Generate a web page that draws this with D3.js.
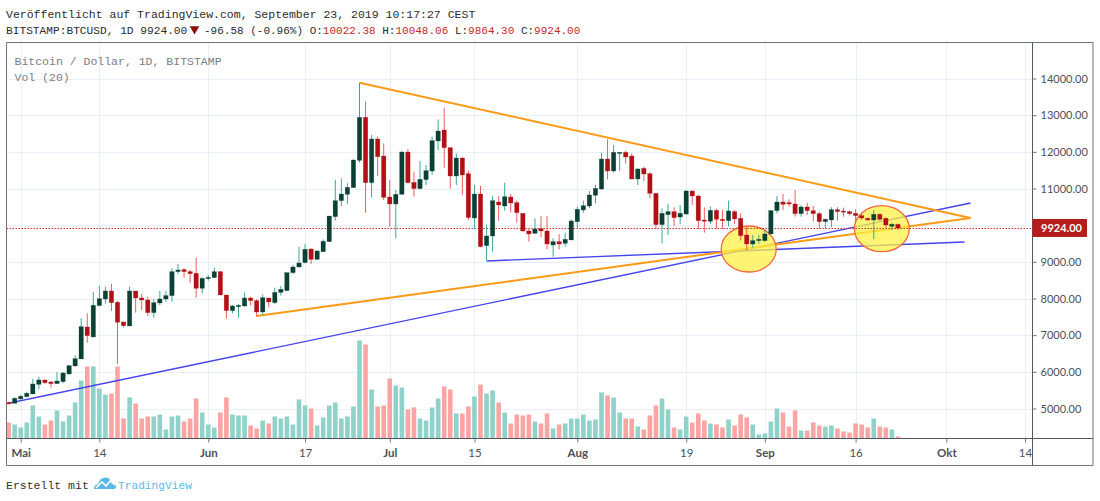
<!DOCTYPE html>
<html>
<head>
<meta charset="utf-8">
<script src="https://cdnjs.cloudflare.com/ajax/libs/d3/7.8.5/d3.min.js"></script>
<style>
  html, body { margin: 0; padding: 0; background: #fff; }
  svg { display: block; }
  .mono { font-family: "Liberation Mono", "DejaVu Sans Mono", monospace; }
  .axisText { font-family: Lato, "Liberation Sans", sans-serif; font-size: 11px; fill: #4c4f58; }
</style>
</head>
<body>
<div id="chart"></div>
<script>
var svgWidth = 1100;
var svgHeight = 501;

// Candles, one per day, starting at firstDay
var firstDay = "2019-04-29";
var opens = [5160,5142,5260,5323,5396,5660,5778,5723,5678,5732,5942,6160,6351,7223,6951,7805,7987,8205,7896,7360,
  7251,8205,8014,7960,7614,7878,7987,8078,8732,8787,8732,8687,8278,8541,8569,8732,8096,7669,7778,7796,
  8014,7941,7632,8014,7887,8168,8214,8705,8859,8978,9350,9069,9277,9550,10232,10668,10841,11023,11768,12941,
  11159,12350,11886,10768,10578,10841,11995,11168,10996,11241,11477,12296,12595,12114,11341,11832,11405,10196,10850,9441,
  9705,10632,10523,10769,10614,10323,9842,9778,9905,9842,9460,9551,9505,9596,10096,10414,10523,10814,10987,11805,
  11478,11978,11987,11887,11260,11550,11405,10869,10014,10287,10369,10223,10305,10932,10796,10141,10105,10405,10160,10123,
  10369,10187,9732,9487,9578,9578,9760,10396,10632,10614,10578,10314,10496,10396,10314,10096,10141,10423,10387,10369,
  10323,10260,10187,10141,10296,10187,9968,10022.38];
var highs = [5190,5305,5370,5460,5805,5869,5790,5741,5996,5996,6180,6450,7469,7596,8187,8341,8323,8396,7932,7360,
  8323,8205,8123,8050,7996,8205,8205,8823,8941,8823,8778,9114,8578,8641,8841,8750,8096,7823,7850,8160,
  8050,7980,8114,8023,8296,8341,8705,8914,9414,9486,9368,9314,9614,10250,11232,11277,11141,11795,13886,13368,
  12459,12413,12232,11232,10959,12014,12068,11459,11750,11641,12414,12886,13205,12114,11959,11850,11486,11096,11068,10005,
  10796,10796,11159,10850,10669,10323,9914,10187,10251,10251,9642,9751,9796,10160,10505,10669,10932,11096,11978,12341,
  12187,11990,12032,11960,11550,11596,11441,10869,10459,10578,10487,10550,10960,10950,10823,10487,10505,10450,10414,10669,
  10414,10323,9960,9733,9733,9869,10414,10796,10850,10705,10960,10550,10614,10523,10369,10178,10487,10487,10478,10396,
  10432,10305,10214,10414,10323,10205,10068,10048.06];
var lows = [5110,5140,5250,5305,5390,5524,5670,5570,5678,5687,5930,6142,6351,6796,6951,7805,7860,7660,6214,7215,
  7251,7614,7687,7523,7478,7823,7914,7914,8669,8569,8423,8023,8141,8487,8569,8096,7450,7596,7478,7778,
  7805,7505,7550,7760,7850,8078,8214,8668,8850,8959,8941,9050,9268,9550,10123,10523,10577,11023,11705,10341,
  10759,11341,10686,9959,9641,10841,11141,10777,10977,11096,11368,12050,11568,10996,11096,10823,10141,9887,9396,9050,
  9278,10123,10396,10350,10069,9823,9551,9760,9669,9342,9142,9342,9414,9596,9915,10342,10465,10596,10960,11250,
  11432,11478,11687,11250,11096,11205,10732,9905,9505,9733,9978,10032,10278,10550,9887,9796,10032,9905,9905,9964,
  10032,9578,9323,9387,9487,9550,9760,10323,10414,10505,10232,10232,10278,10096,9896,9896,9942,10123,10232,10269,
  10096,10141,10123,9623,10114,9914,9869,9864.30];
var closes = [5140,5278,5333,5414,5669,5778,5705,5678,5750,5969,6169,6360,7232,6987,7814,7996,8205,7887,7351,7260,
  8205,8014,7960,7614,7887,7987,8078,8732,8778,8732,8678,8278,8550,8578,8732,8096,7669,7796,7814,8014,
  7941,7632,8023,7905,8168,8250,8705,8859,8968,9341,9069,9296,9559,10250,10668,10850,11032,11777,12941,11159,
  12350,11868,10759,10578,10841,11995,11159,10996,11250,11486,12305,12568,12114,11341,11832,11368,10205,10850,9414,9705,
  10668,10550,10778,10605,10341,9842,9760,9896,9842,9487,9551,9487,9614,10114,10432,10532,10823,11005,11805,11478,
  11987,11987,11860,11260,11532,11396,10869,10014,10323,10369,10205,10323,10932,10796,10123,10123,10405,10160,10123,10387,
  10169,9714,9487,9578,9614,9760,10396,10632,10569,10578,10314,10496,10396,10314,10096,10160,10423,10369,10360,10314,
  10260,10196,10141,10296,10160,10005,10023,9924];
// Volume, relative units
var volumes = [16,14,11,16,33,22,14,18,28,17,23,36,58,72,72,50,44,45,72,20,
  41,35,20,22,22,24,9,22,23,17,20,40,26,14,11,26,41,24,23,23,
  13,10,18,15,22,20,22,14,39,33,30,13,21,33,36,20,22,32,98,94,
  49,32,33,60,53,51,29,31,20,18,31,40,52,49,25,25,32,42,54,45,
  48,36,26,15,24,23,24,17,15,25,10,14,15,20,20,24,18,19,46,43,
  41,26,20,20,12,9,23,33,40,29,11,9,22,16,25,18,15,14,11,19,
  13,24,21,14,4,5,17,30,26,12,28,8,8,16,13,12,13,10,7,6,
  15,14,11,20,12,11,9,2];

// Axis ticks
var priceTicks = [5000,6000,7000,8000,9000,10000,11000,12000,13000,14000];
var timeTicks = ["2019-05-01","2019-05-14","2019-06-01","2019-06-17","2019-07-01","2019-07-15","2019-08-01","2019-08-19","2019-09-01","2019-09-16","2019-10-01","2019-10-14"];
var timeLabels = ["Mai","14","Jun","17","Jul","15","Aug","19","Sep","16","Okt","14"];
var lastPrice = 9924;

// Drawn trend lines, [date, price]
var upperOrange = [["2019-06-26",13886],["2019-10-05",10196]];
var lowerOrange = [["2019-06-09",7523],["2019-10-05",10196]];
var longBlue = [["2019-04-28",5110],["2019-10-05",10605]];
var flatBlue = [["2019-07-17",9023],["2019-10-04",9541]];
// Highlight ellipses, [centre time, centre price, days radius, price radius]
var ellipses = [["2019-08-29T08:00:00Z",9350,4.55,627],["2019-09-20T08:00:00Z",9904,4.55,627]];

var parseDay = d3.utcParse("%Y-%m-%d");
var days = closes.map(function(c, i) { return d3.utcDay.offset(parseDay(firstDay), i); });

var frame = {left: 6.5, right: 1093, top: 42.5, axisX: 1032.5, axisY: 438.5, bottom: 465.5};

var svg = d3.select("#chart")
  .append("svg")
  .attr("width", svgWidth)
  .attr("height", svgHeight);

var xTimeScale = d3.scaleUtc()
  .domain([parseDay("2019-05-01"), parseDay("2019-10-14")])
  .range([20.7, 1025]);

var yPriceScale = d3.scaleLinear()
  .domain([5000, 14000])
  .range([408.5, 78.5]);

var yVolScale = d3.scaleLinear()
  .domain([0, 98])
  .range([frame.axisY, 340.5]);

svg.append("defs").append("clipPath").attr("id", "plot")
  .append("rect")
  .attr("x", frame.left)
  .attr("y", frame.top)
  .attr("width", frame.axisX - frame.left)
  .attr("height", frame.axisY - frame.top);

// Grid
var gridGroup = svg.append("g").attr("stroke", "#e9f0f5").attr("stroke-width", 1);
gridGroup.selectAll(".hgrid").data(priceTicks).enter().append("line")
  .attr("x1", frame.left).attr("x2", frame.axisX)
  .attr("y1", d => Math.round(yPriceScale(d)) + 0.5)
  .attr("y2", d => Math.round(yPriceScale(d)) + 0.5);
gridGroup.selectAll(".vgrid").data(timeTicks).enter().append("line")
  .attr("y1", frame.top).attr("y2", frame.axisY)
  .attr("x1", d => Math.round(xTimeScale(parseDay(d))) + 0.5)
  .attr("x2", d => Math.round(xTimeScale(parseDay(d))) + 0.5);

var plot = svg.append("g").attr("clip-path", "url(#plot)");

// Volume
var barWidth = 4.6;
plot.append("g").selectAll("rect").data(days).enter().append("rect")
  .attr("x", d => xTimeScale(d) - barWidth / 2)
  .attr("width", barWidth)
  .attr("y", (d, i) => yVolScale(volumes[i]))
  .attr("height", (d, i) => yVolScale(0) - yVolScale(volumes[i]))
  .attr("fill", (d, i) => closes[i] >= opens[i] ? "#8fd2c9" : "#faa5a3");

// Trend lines
var trendLine = d3.line()
  .x(d => xTimeScale(parseDay(d[0])))
  .y(d => yPriceScale(d[1]));

plot.append("path").attr("d", trendLine(longBlue))
  .attr("fill", "none").attr("stroke", "#4343f0").attr("stroke-width", 1.4);
plot.append("path").attr("d", trendLine(flatBlue))
  .attr("fill", "none").attr("stroke", "#4343f0").attr("stroke-width", 1.4);
plot.append("path").attr("d", trendLine(upperOrange))
  .attr("fill", "none").attr("stroke", "#ff9a16").attr("stroke-width", 2);
plot.append("path").attr("d", trendLine(lowerOrange))
  .attr("fill", "none").attr("stroke", "#ff9a16").attr("stroke-width", 2);

// Ellipses, over the lines but under the candles
plot.selectAll("ellipse").data(ellipses).enter().append("ellipse")
  .attr("cx", d => xTimeScale(new Date(d[0])))
  .attr("cy", d => yPriceScale(d[1]))
  .attr("rx", d => xTimeScale(d3.utcHour.offset(new Date(d[0]), d[2] * 24)) - xTimeScale(new Date(d[0])))
  .attr("ry", d => yPriceScale(d[1] - d[3]) - yPriceScale(d[1]))
  .attr("fill", "#fff044")
  .attr("fill-opacity", 0.75)
  .attr("stroke", "#f5683c")
  .attr("stroke-width", 1.3);

// Last price line
plot.append("line")
  .attr("x1", frame.left).attr("x2", frame.axisX)
  .attr("y1", Math.round(yPriceScale(lastPrice)) + 0.5)
  .attr("y2", Math.round(yPriceScale(lastPrice)) + 0.5)
  .attr("stroke", "#d32f2f")
  .attr("stroke-width", 1)
  .attr("stroke-dasharray", "1.5,1.5");

// Candles
var candles = plot.append("g").selectAll("g").data(days).enter().append("g");
candles.append("line")
  .attr("x1", d => xTimeScale(d)).attr("x2", d => xTimeScale(d))
  .attr("y1", (d, i) => yPriceScale(highs[i]))
  .attr("y2", (d, i) => yPriceScale(lows[i]))
  .attr("stroke-width", 1)
  .attr("stroke", (d, i) => closes[i] >= opens[i] ? "#3aa897" : "#ef5d5d");
candles.append("rect")
  .attr("x", d => xTimeScale(d) - 2.2)
  .attr("width", 4.4)
  .attr("y", (d, i) => yPriceScale(Math.max(opens[i], closes[i])))
  .attr("height", (d, i) => Math.max(1.2, Math.abs(yPriceScale(opens[i]) - yPriceScale(closes[i]))))
  .attr("fill", (d, i) => closes[i] >= opens[i] ? "#0b4034" : "#b21015")
  .attr("stroke", (d, i) => closes[i] >= opens[i] ? "#0b4034" : "#b21015")
  .attr("stroke-width", 0.5)
  .attr("stroke-opacity", 0.5);

// Frame
var frameGroup = svg.append("g").attr("stroke", "#6f727a").attr("stroke-width", 1).attr("fill", "none");
frameGroup.append("path")
  .attr("d", `M${frame.left},${frame.bottom}V${frame.top}H${frame.right}V${frame.bottom}Z`);
frameGroup.append("path")
  .attr("d", `M${frame.axisX},${frame.top}V${frame.bottom}M${frame.left},${frame.axisY}H${frame.right}`)
  .attr("stroke", "#55585f");

// Price axis
var rightAxis = d3.axisRight(yPriceScale)
  .tickValues(priceTicks)
  .tickFormat(d3.format(".2f"))
  .tickSize(4)
  .tickPadding(4);
var priceAxis = svg.append("g")
  .attr("transform", `translate(${frame.axisX},0)`)
  .call(rightAxis);
priceAxis.select(".domain").remove();
priceAxis.selectAll("line").attr("stroke", "#6f727a");
priceAxis.selectAll("text").attr("class", "axisText").attr("fill", null);
// 10000.00 sits behind the last price label
priceAxis.selectAll("text").filter(d => Math.abs(yPriceScale(d) - yPriceScale(lastPrice)) < 12).remove();

// Time axis
var bottomAxis = d3.axisBottom(xTimeScale)
  .tickValues(timeTicks.map(parseDay))
  .tickFormat((d, i) => timeLabels[i])
  .tickSize(4)
  .tickPadding(6);
var timeAxis = svg.append("g")
  .attr("transform", `translate(0,${frame.axisY})`)
  .call(bottomAxis);
timeAxis.select(".domain").remove();
timeAxis.selectAll("line").attr("stroke", "#6f727a");
timeAxis.selectAll("text").attr("class", "axisText").attr("fill", null)
  .style("font-size", "11.5px")
  .style("font-weight", (d, i) => isNaN(+timeLabels[i]) ? 700 : 400);

// Last price label
var lastY = yPriceScale(lastPrice);
svg.append("rect")
  .attr("x", frame.axisX)
  .attr("y", lastY - 9)
  .attr("width", 54.5)
  .attr("height", 18)
  .attr("fill", "#b71c1c");
svg.append("text")
  .attr("x", frame.axisX + 8.5)
  .attr("y", lastY + 4)
  .attr("class", "axisText")
  .style("fill", "#fff")
  .style("font-weight", 700)
  .text(d3.format(".2f")(lastPrice));

// Header
function monoText(x, y, str, fill, size) {
  return svg.append("text")
    .attr("class", "mono")
    .attr("x", x).attr("y", y)
    .attr("fill", fill)
    .attr("font-size", size || 11.5)
    .text(str);
}

monoText(6, 18, "Veröffentlicht auf TradingView.com, September 23, 2019 10:17:27 CEST", "#2b2b2b");
monoText(6, 34, "BITSTAMP:BTCUSD, 1D 9924.00", "#2b2b2b", 11.2);
svg.append("path")
  .attr("d", d3.symbol().type(d3.symbolTriangle).size(40)())
  .attr("transform", "translate(194.5,29) rotate(180)")
  .attr("fill", "#8b0f0f");

var quote = monoText(204, 34, "-96.58 (-0.96%) ", "#2b2b2b", 11);
[["O:", "10022.38 "], ["H:", "10048.06 "], ["L:", "9864.30 "], ["C:", "9924.00"]].forEach(function(q) {
  quote.append("tspan").text(q[0]);
  quote.append("tspan").attr("fill", "#c62828").text(q[1]);
});

monoText(14.5, 65, "Bitcoin / Dollar, 1D, BITSTAMP", "#7b7e86", 11.5);
monoText(14.5, 81, "Vol (20)", "#7b7e86", 11.5);

// Footer
monoText(6, 489, "Erstellt mit", "#333", 11.5);
var logo = svg.append("g").attr("transform", "translate(94,477)");
logo.append("path")
  .attr("d", "M0,12 Q0,7.5 4,7.5 Q5.5,1 11,0.5 Q16,0.5 18,6 Q22,7 22,10 Q22,12 20,12 Z")
  .attr("fill", "#58b9e8");
logo.append("path")
  .attr("d", "M2,11 L8,5 L12,9 L16,4 L21,8")
  .attr("fill", "none").attr("stroke", "#fff").attr("stroke-width", 1.6);
monoText(118, 489, "TradingView", "#5cb8e8", 11.2);
</script>
</body>
</html>
